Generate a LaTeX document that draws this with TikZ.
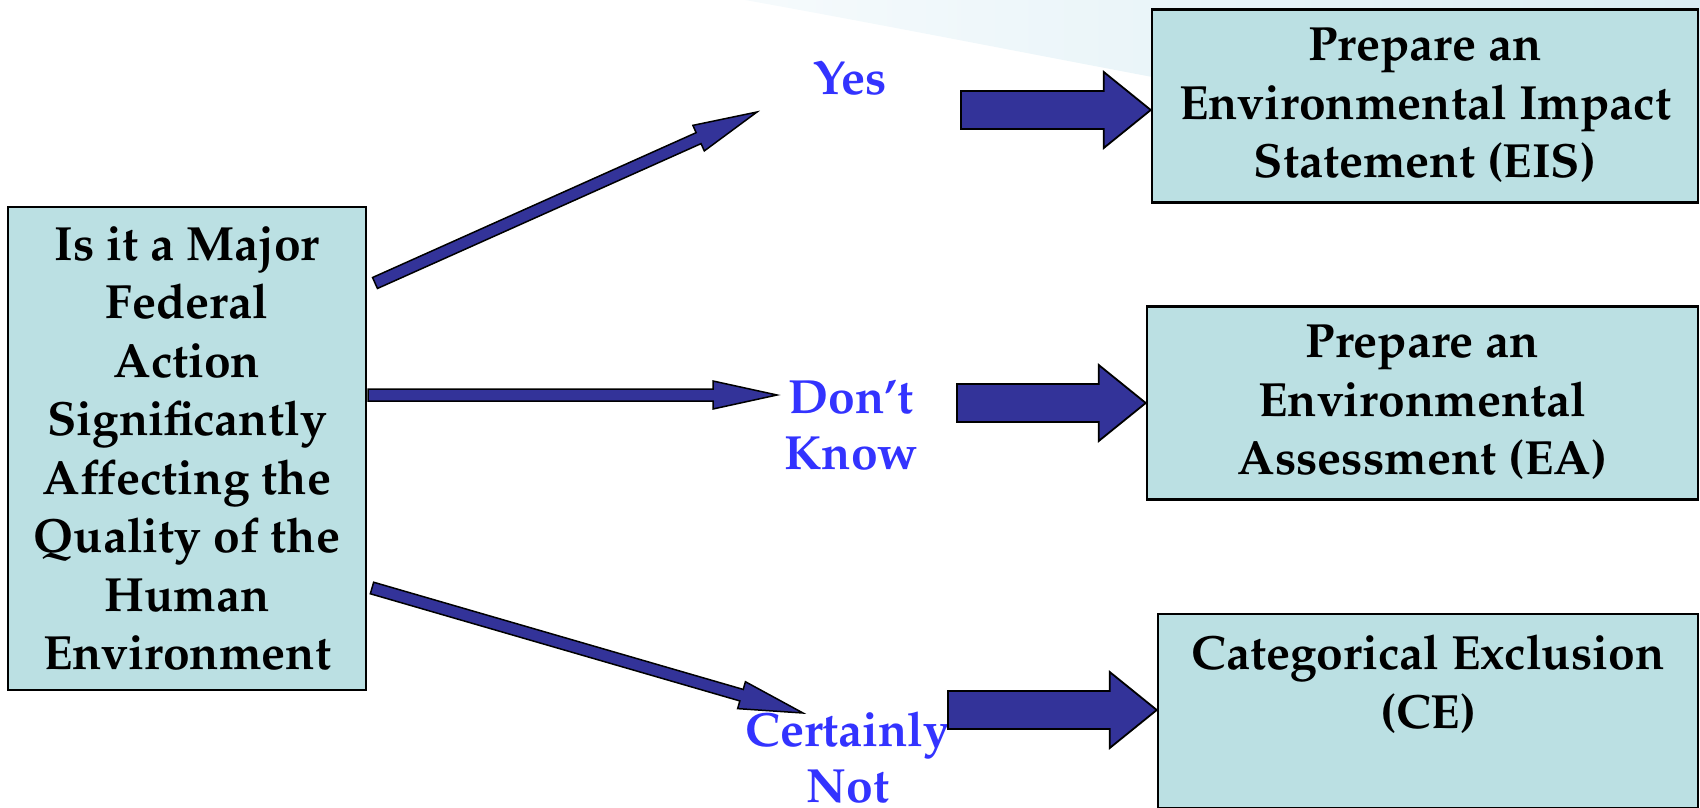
\documentclass[tikz,border=0pt]{standalone}
\usepackage[T1]{fontenc}
\usepackage{mathpazo}
\usetikzlibrary{calc}
\usetikzlibrary{positioning}

\definecolor{boxfill}{RGB}{187,224,227}
\definecolor{arrowblue}{RGB}{51,51,153}
\definecolor{labelblue}{RGB}{51,51,255}
\definecolor{swoosh}{RGB}{218,237,244}

\begin{document}
\begin{tikzpicture}[x=1pt, y=-1pt]

\pgfmathsetmacro{\LX}{850}
\pgfmathsetmacro{\RX}{1425}

\tikzset{
  qbox/.style={draw, line width=2.5pt, fill=boxfill, align=center, inner sep=0pt,
    font=\fontsize{48}{58.5}\selectfont\bfseries},
  answer/.style={align=center, inner sep=0pt, text=labelblue,
    font=\fontsize{48}{56}\selectfont\bfseries},
  arrowshape/.style n args={3}{to path={
    ($(\tikztostart)!#1!90:(\tikztotarget)$)
    -- ($(\tikztotarget)!#3!(\tikztostart)!#1!90:(\tikztotarget)$)
    -- ($(\tikztotarget)!#3!(\tikztostart)!#2!90:(\tikztotarget)$)
    -- (\tikztotarget)
    -- ($(\tikztotarget)!#3!(\tikztostart)!#2!-90:(\tikztotarget)$)
    -- ($(\tikztotarget)!#3!(\tikztostart)!#1!-90:(\tikztotarget)$)
    -- ($(\tikztostart)!#1!-90:(\tikztotarget)$)
    -- cycle}},
  thinarrow/.style={draw=black, line width=1.5pt, fill=arrowblue, line join=miter,
    arrowshape={6pt}{14pt}{64pt}},
  fatarrow/.style={draw=black, line width=1.8pt, fill=arrowblue, line join=miter,
    arrowshape={19pt}{38pt}{47pt}},
}

\useasboundingbox (0,0) rectangle (1700,808);
\shade [left color=swoosh!25, right color=swoosh]
  (745,0) .. controls (900,28) and (1040,56) .. (1200,86) -- (1700,150) -- (1700,0) -- cycle;

\node [qbox, minimum width=358, minimum height=483] (Q) at (187,448.5)
  {Is it a Major\\Federal\\Action\\Significantly\\Affecting the\\Quality of the\\Human\\Environment};

\node [qbox, minimum width=546, minimum height=193] (EIS) at (\RX,106)
  {Prepare an\\Environmental Impact\\Statement (EIS)};
\node [qbox, minimum width=551, minimum height=193] (EA) at (1422.5,403)
  {Prepare an\\Environmental\\Assessment (EA)};
\node [qbox, minimum width=540, minimum height=194] (CE) at (1428,711)
  {Categorical Exclusion\\(CE)\\\mbox{}};

\node [answer] (yes) at (\LX,78) {Yes};
\node [answer] (dk) at (851,425) {Don't\\Know};
\node [answer] (cn) at (848,757) {Certainly\\Not};

\coordinate (qyes) at (375,283);
\coordinate (tyes) at (757,112);
\coordinate (qdk) at (368,395);
\coordinate (tdk) at (777,395);
\coordinate (qcn) at (372,588);
\coordinate (tcn) at (803,713);

\coordinate (eisin) at (961,110);
\coordinate (eain) at (957,403);
\coordinate (cein) at (948,710);

\draw [thinarrow] (qyes) to (tyes);
\draw [thinarrow] (qdk) to (tdk);
\draw [thinarrow] (qcn) to (tcn);

\draw [fatarrow] (eisin) to (EIS.west |- eisin);
\draw [fatarrow] (eain) to (EA.west |- eain);
\draw [fatarrow] (cein) to (CE.west |- cein);

\end{tikzpicture}
\end{document}
